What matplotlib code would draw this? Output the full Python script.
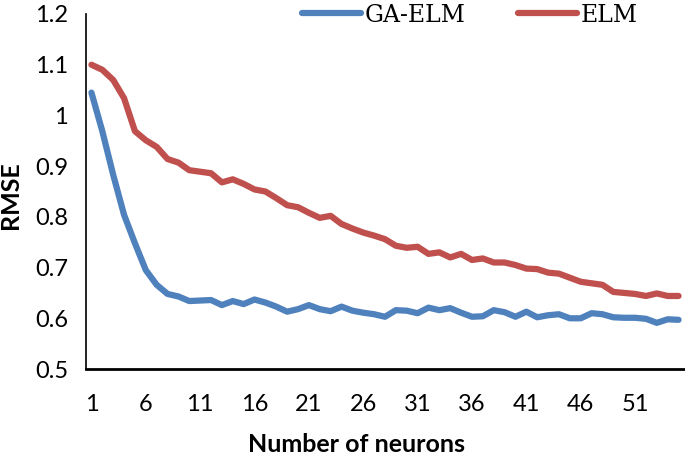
import matplotlib
matplotlib.use("Agg")
import matplotlib.pyplot as plt
import numpy as np

neurons = list(range(1, 56))
ga_elm = [1.045, 0.969, 0.883, 0.804, 0.748, 0.695, 0.666, 0.648, 0.643, 0.634,
          0.635, 0.636, 0.626, 0.634, 0.628, 0.637, 0.631, 0.623, 0.613, 0.618,
          0.626, 0.618, 0.614, 0.623, 0.615, 0.611, 0.608, 0.603, 0.616, 0.615,
          0.610, 0.621, 0.616, 0.620, 0.611, 0.603, 0.604, 0.616, 0.612, 0.603,
          0.613, 0.602, 0.606, 0.608, 0.600, 0.600, 0.610, 0.608, 0.602, 0.601,
          0.601, 0.599, 0.591, 0.598, 0.597]
elm = [1.100, 1.090, 1.070, 1.034, 0.969, 0.951, 0.938, 0.914, 0.907, 0.892,
       0.889, 0.886, 0.868, 0.874, 0.865, 0.854, 0.850, 0.837, 0.823, 0.819,
       0.808, 0.798, 0.802, 0.786, 0.777, 0.769, 0.763, 0.756, 0.743, 0.739,
       0.741, 0.727, 0.730, 0.720, 0.727, 0.715, 0.718, 0.710, 0.710, 0.705,
       0.698, 0.697, 0.690, 0.688, 0.680, 0.672, 0.669, 0.666, 0.652, 0.650,
       0.648, 0.644, 0.649, 0.644, 0.644]
xtick_vals = [1, 6, 11, 16, 21, 26, 31, 36, 41, 46, 51]
ytick_vals = [0.5, 0.6, 0.7, 0.8, 0.9, 1.0, 1.1, 1.2]
ytick_labels = ["0.5", "0.6", "0.7", "0.8", "0.9", "1", "1.1", "1.2"]
series_names = ["GA-ELM", "ELM"]

fig = plt.figure(figsize=(6.85, 4.55), dpi=100)
ax = fig.add_axes([86/685, 1-369/455, 598/685, 355/455])

blue = "#4F81BD"
red = "#C0504D"
ax.plot(neurons, ga_elm, color=blue, lw=4.5, solid_capstyle="round", solid_joinstyle="round", label=series_names[0])
ax.plot(neurons, elm, color=red, lw=4.5, solid_capstyle="round", solid_joinstyle="round", label=series_names[1])

ax.set_xlim(0.5, 55.5)
ax.set_ylim(0.5, 1.2)
ax.set_xticks(xtick_vals)
ax.set_xticklabels([str(v) for v in xtick_vals], family="Lato", fontsize=17)
ax.set_yticks(ytick_vals)
ax.set_yticklabels(ytick_labels, family="Lato", fontsize=17)
ax.tick_params(axis="both", length=0)
ax.tick_params(axis="y", pad=13)
ax.tick_params(axis="x", pad=18)

for s in ["top", "right"]:
    ax.spines[s].set_visible(False)
ax.spines["left"].set_linewidth(1.2)
ax.spines["bottom"].set_linewidth(2.0)
ax.spines["left"].set_color("black")
ax.spines["bottom"].set_color("black")

fig.text(10/685, 1-195/455, "RMSE", rotation=90, ha="center", va="center",
         family="Lato", fontweight="bold", fontsize=18)
fig.text(356/685, 1-444/455, "Number of neurons", ha="center", va="center",
         family="Lato", fontweight="bold", fontsize=18)

leg = fig.legend(loc="center", bbox_to_anchor=(470/685, 1-15/455), ncol=2, frameon=False,
                 prop={"family": "DejaVu Serif", "size": 17}, handlelength=2.5,
                 handletextpad=0.15, columnspacing=2.2, borderpad=0, borderaxespad=0)

fig.savefig("out.png", dpi=100)
